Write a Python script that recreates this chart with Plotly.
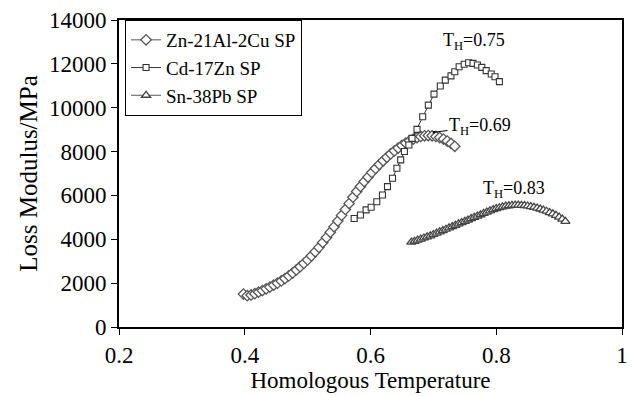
import plotly.graph_objects as go

zn_x = [0.398,0.404,0.410,0.416,0.422,0.428,0.434,0.440,0.446,0.452,0.458,0.464,0.470,0.476,0.482,0.488,0.494,0.500,
        0.506,0.512,0.518,0.524,0.530,0.536,0.542,0.548,0.554,0.560,0.566,0.572,0.578,0.584,0.590,0.596,0.602,0.608,
        0.614,0.620,0.626,0.632,0.638,0.644,0.650,0.656,0.662,0.668,0.674,0.680,0.686,0.692,0.698,0.704,0.710,0.716,
        0.722,0.728,0.734]
zn_y = [1500,1430,1460,1520,1590,1660,1740,1820,1910,2000,2100,2210,2330,2460,2600,2750,2900,3060,
        3240,3430,3630,3850,4080,4320,4570,4830,5090,5360,5630,5920,6180,6410,6630,6840,7040,7230,
        7410,7580,7740,7890,8030,8160,8280,8390,8490,8570,8640,8690,8720,8730,8720,8690,8640,8570,
        8480,8370,8240]

cd_x = [0.574,0.584,0.593,0.601,0.610,0.619,0.627,0.635,0.642,0.648,0.654,0.661,0.666,0.674,0.683,0.692,0.701,
        0.711,0.719,0.728,0.734,0.741,0.749,0.756,0.763,0.770,0.777,0.784,0.792,0.798,0.805]
cd_y = [4950,5110,5340,5460,5710,6020,6400,6780,7240,7620,8000,8300,8600,9010,9590,10120,10620,
        10990,11260,11450,11640,11870,11980,12050,12020,11950,11840,11690,11540,11410,11190]

sn_x = [0.665,0.670,0.675,0.680,0.685,0.690,0.695,0.700,0.705,0.710,0.715,0.720,0.725,0.730,0.735,0.740,0.745,
        0.750,0.755,0.760,0.765,0.770,0.775,0.780,0.785,0.790,0.795,0.800,0.805,0.810,0.815,0.820,0.825,0.830,
        0.835,0.840,0.845,0.850,0.855,0.860,0.865,0.870,0.875,0.880,0.885,0.890,0.895,0.900,0.905,0.910]
sn_y = [3870,3910,3960,4010,4060,4110,4160,4220,4280,4340,4400,4460,4520,4580,4640,4700,4760,
        4820,4880,4940,5000,5060,5120,5180,5240,5300,5350,5400,5440,5480,5510,5530,5550,5560,
        5560,5550,5540,5520,5490,5460,5420,5380,5330,5280,5220,5160,5090,5010,4920,4820]

x_ticks = [0.2, 0.4, 0.6, 0.8, 1.0]
x_tick_labels = ["0.2", "0.4", "0.6", "0.8", "1"]
y_ticks = [0, 2000, 4000, 6000, 8000, 10000, 12000, 14000]
y_tick_labels = ["0", "2000", "4000", "6000", "8000", "10000", "12000", "14000"]

FONT = "Liberation Serif, Times New Roman, serif"
GREY = "#555555"

fig = go.Figure()
fig.add_trace(go.Scatter(x=zn_x, y=zn_y, mode="lines+markers", name="Zn-21Al-2Cu SP",
                         line=dict(color=GREY, width=1),
                         marker=dict(symbol="diamond", size=8, color="white", line=dict(color=GREY, width=1.3))))
fig.add_trace(go.Scatter(x=cd_x, y=cd_y, mode="lines+markers", name="Cd-17Zn SP",
                         line=dict(color="#333333", width=1),
                         marker=dict(symbol="square", size=6, color="white", line=dict(color="#333333", width=1.1))))
fig.add_trace(go.Scatter(x=sn_x, y=sn_y, mode="lines+markers", name="Sn-38Pb SP",
                         line=dict(color=GREY, width=1),
                         marker=dict(symbol="triangle-up", size=8, color="white", line=dict(color="#444444", width=1.3))))

fig.add_annotation(x=0.764, y=13000, text="T<sub>H</sub>=0.75", showarrow=False,
                   font=dict(family=FONT, size=18, color="black"))
fig.add_annotation(x=0.701, y=8880, text="T<sub>H</sub>=0.69", showarrow=True,
                   ax=46, ay=-6, arrowhead=6, arrowsize=0.6, arrowwidth=1, arrowcolor="black",
                   font=dict(family=FONT, size=18, color="black"))
fig.add_annotation(x=0.828, y=6250, text="T<sub>H</sub>=0.83", showarrow=False,
                   font=dict(family=FONT, size=18, color="black"))

fig.update_layout(
    width=632, height=396,
    margin=dict(l=119, r=4, t=20, b=69),
    paper_bgcolor="white", plot_bgcolor="white",
    font=dict(family=FONT, size=23, color="black"),
    showlegend=True,
    legend=dict(x=0.012, y=1.0, xanchor="left", yanchor="top",
                bgcolor="white", bordercolor="black", borderwidth=1,
                font=dict(family=FONT, size=19, color="black"),
                itemwidth=30, tracegroupgap=0),
    xaxis=dict(range=[0.2, 1.0], tickvals=x_ticks, ticktext=x_tick_labels,
               showgrid=False, zeroline=False, showline=True, linecolor="black", linewidth=2,
               mirror=True, ticks="outside", ticklen=6, tickcolor="black",
               tickfont=dict(family=FONT, size=23),
               title=dict(text="Homologous Temperature", font=dict(family=FONT, size=23), standoff=4)),
    yaxis=dict(range=[0, 14000], tickvals=y_ticks, ticktext=y_tick_labels,
               showgrid=False, zeroline=False, showline=True, linecolor="black", linewidth=2,
               mirror=True, ticks="outside", ticklen=6, tickcolor="black",
               tickfont=dict(family=FONT, size=23),
               title=dict(text="Loss Modulus/MPa", font=dict(family=FONT, size=25), standoff=4)),
)

fig.write_html("out.html")
